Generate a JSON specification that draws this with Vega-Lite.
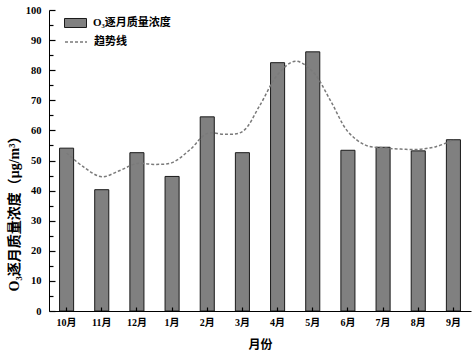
{
  "$schema": "https://vega.github.io/schema/vega-lite/v6.json",
  "width": 422,
  "height": 301,
  "autosize": "none",
  "padding": {"left": 49, "top": 10, "right": 1, "bottom": 41},
  "background": "white",
  "config": {
    "view": {"stroke": null},
    "font": "Liberation Serif, Noto Sans CJK SC",
    "axis": {
      "labelFont": "Liberation Serif, Noto Sans CJK SC",
      "titleFont": "Liberation Serif, Noto Sans CJK SC",
      "labelFontWeight": "bold",
      "titleFontWeight": "bold",
      "labelColor": "#000",
      "titleColor": "#000",
      "domainColor": "#000",
      "tickColor": "#000",
      "tickWidth": 1.2,
      "grid": false
    },
    "legend": {
      "labelFont": "Liberation Serif, Noto Sans CJK SC",
      "labelFontWeight": "bold",
      "labelColor": "#000"
    }
  },
  "datasets": {
    "monthly": [
      {"month": "10月", "o3": 54.1},
      {"month": "11月", "o3": 40.3},
      {"month": "12月", "o3": 52.6},
      {"month": "1月", "o3": 44.7},
      {"month": "2月", "o3": 64.5},
      {"month": "3月", "o3": 52.6},
      {"month": "4月", "o3": 82.5},
      {"month": "5月", "o3": 86.1},
      {"month": "6月", "o3": 53.4},
      {"month": "7月", "o3": 54.4},
      {"month": "8月", "o3": 53.2},
      {"month": "9月", "o3": 56.9}
    ],
    "trend": [
      {"pos": 0, "o3": 52.5},
      {"pos": 0.5, "o3": 47.7},
      {"pos": 1, "o3": 44.6},
      {"pos": 1.5, "o3": 46.6},
      {"pos": 2, "o3": 49.0},
      {"pos": 2.5, "o3": 48.7},
      {"pos": 3, "o3": 49.3},
      {"pos": 3.5, "o3": 53.5},
      {"pos": 4, "o3": 59.0},
      {"pos": 4.5, "o3": 58.7},
      {"pos": 5, "o3": 59.6},
      {"pos": 5.5, "o3": 68.4},
      {"pos": 6, "o3": 78.5},
      {"pos": 6.5, "o3": 83.0},
      {"pos": 7, "o3": 79.5},
      {"pos": 7.5, "o3": 70.0},
      {"pos": 8, "o3": 59.6},
      {"pos": 8.5, "o3": 55.1},
      {"pos": 9, "o3": 54.2},
      {"pos": 9.5, "o3": 53.8},
      {"pos": 10, "o3": 53.7},
      {"pos": 10.5, "o3": 54.6},
      {"pos": 11, "o3": 56.8}
    ]
  },
  "encoding": {
    "y": {
      "field": "o3",
      "type": "quantitative",
      "scale": {"domain": [0, 100], "nice": false},
      "axis": {
        "title": "O₃逐月质量浓度（μg/m³）",
        "values": [0, 5, 10, 15, 20, 25, 30, 35, 40, 45, 50, 55, 60, 65, 70, 75, 80, 85, 90, 95, 100],
        "labelExpr": "datum.value % 10 === 0 ? datum.label : ''",
        "labelOverlap": false,
        "labelFontSize": 10.5,
        "titleFontSize": 14,
        "tickSize": {"condition": {"test": "datum.value % 10 === 0", "value": -6}, "value": -4},
        "labelPadding": 14,
        "zindex": 1,
        "titleY": 200,
        "titleX": -28
      }
    }
  },
  "layer": [
    {
      "data": {"name": "monthly"},
      "mark": {"type": "bar", "stroke": "#1a1a1a", "strokeWidth": 1},
      "encoding": {
        "x": {
          "field": "month",
          "type": "nominal",
          "sort": null,
          "scale": {"paddingInner": 0.6, "paddingOuter": 0.3},
          "axis": {
            "title": "月份",
            "labelAngle": 0,
            "labelFontSize": 10,
            "titleFontSize": 12,
            "tickSize": -4,
            "labelPadding": 10,
            "titlePadding": 12,
            "zindex": 1
          }
        },
        "fill": {
          "datum": "O₃逐月质量浓度",
          "scale": {"range": ["#808080"]},
          "legend": {
            "title": null,
            "orient": "none",
            "legendX": 15,
            "legendY": 1.5,
            "padding": 0,
            "symbolType": "M-1,-0.41H1V0.41H-1Z",
            "symbolSize": 484,
            "symbolStrokeColor": "#1a1a1a",
            "symbolStrokeWidth": 1,
            "labelFontSize": 11,
            "labelOffset": 6
          }
        }
      }
    },
    {
      "data": {"name": "trend"},
      "mark": {"type": "line", "interpolate": "catmull-rom", "color": "#7a7a7a", "strokeWidth": 1.5},
      "encoding": {
        "x": {
          "field": "pos",
          "type": "quantitative",
          "scale": {"domain": [-0.5, 11.5], "nice": false, "zero": false},
          "axis": null
        },
        "strokeDash": {
          "datum": "趋势线",
          "scale": {"range": [[3, 2]]},
          "legend": {
            "title": null,
            "orient": "none",
            "legendX": 15,
            "legendY": 20,
            "padding": 0,
            "symbolType": "stroke",
            "symbolSize": 484,
            "symbolStrokeColor": "#7a7a7a",
            "symbolStrokeWidth": 1.5,
            "labelFontSize": 11,
            "labelOffset": 6
          }
        }
      }
    }
  ],
  "resolve": {"scale": {"x": "independent"}}
}
